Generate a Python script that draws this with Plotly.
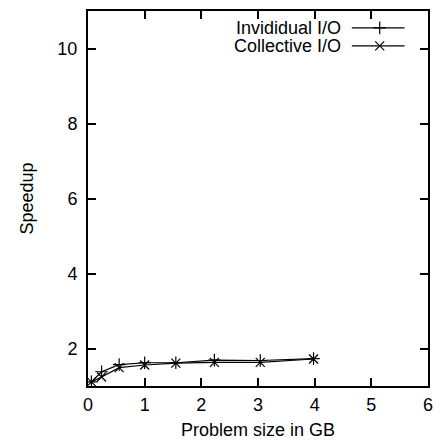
import plotly.graph_objects as go

# Data
size_gb = [0.06, 0.24, 0.55, 1.0, 1.55, 2.23, 3.04, 3.98]
individual = [1.11, 1.38, 1.57, 1.62, 1.62, 1.69, 1.68, 1.73]
collective = [1.11, 1.24, 1.49, 1.56, 1.61, 1.63, 1.63, 1.72]
series_names = ["Invididual I/O", "Collective I/O"]
x_ticks = [0, 1, 2, 3, 4, 5, 6]
y_ticks = [2, 4, 6, 8, 10]

FONT = "Liberation Sans, Arial, sans-serif"
FS = 18
W, H = 442, 441
ML, MR, MT, MB = 88, 14, 11, 55

fig = go.Figure()
symbols = ["cross-thin-open", "x-thin-open"]
for name, ys, sym in zip(series_names, [individual, collective], symbols):
    fig.add_trace(go.Scatter(
        x=size_gb, y=ys, mode="lines+markers", name=name, showlegend=False,
        line=dict(color="black", width=1.2),
        marker=dict(symbol=sym, size=9, color="black", line=dict(color="black", width=1.2)),
    ))

# gnuplot-style key (text left, sample right) drawn on an overlay axis
key_y = [0.955, 0.907]
for name, sym, ky in zip(series_names, symbols, key_y):
    fig.add_trace(go.Scatter(
        x=[0.776, 0.931], y=[ky, ky], mode="lines", xaxis="x2", yaxis="y2",
        line=dict(color="black", width=1.2), showlegend=False, hoverinfo="skip"))
    fig.add_trace(go.Scatter(
        x=[0.858], y=[ky], mode="markers", xaxis="x2", yaxis="y2",
        marker=dict(symbol=sym, size=9, color="black", line=dict(color="black", width=1.2)),
        showlegend=False, hoverinfo="skip"))
    fig.add_annotation(x=0.749, y=ky, xref="paper", yref="paper", text=name,
                       showarrow=False, xanchor="right", yanchor="middle",
                       font=dict(family=FONT, size=FS, color="black"))

axis_common = dict(showgrid=False, zeroline=False, showline=True, linecolor="black",
                   linewidth=2, mirror="ticks", ticks="inside", ticklen=8,
                   tickcolor="black", tickwidth=1.5, automargin=False,
                   tickfont=dict(family=FONT, size=FS, color="black"))
fig.update_layout(
    width=W, height=H, margin=dict(l=ML, r=MR, t=MT, b=MB),
    plot_bgcolor="white", paper_bgcolor="white",
    xaxis=dict(range=[0, 6], tickvals=x_ticks, ticklabelstandoff=1,
               title=dict(text="Problem size in GB", font=dict(family=FONT, size=FS, color="black"), standoff=10),
               **axis_common),
    yaxis=dict(range=[1, 11], tickvals=y_ticks, ticklabelstandoff=5,
               title=dict(text="Speedup", font=dict(family=FONT, size=FS, color="black"), standoff=19),
               **axis_common),
    xaxis2=dict(range=[0, 1], overlaying="x", visible=False),
    yaxis2=dict(range=[0, 1], overlaying="y", visible=False),
    showlegend=False,
)
fig.write_html("out.html")
